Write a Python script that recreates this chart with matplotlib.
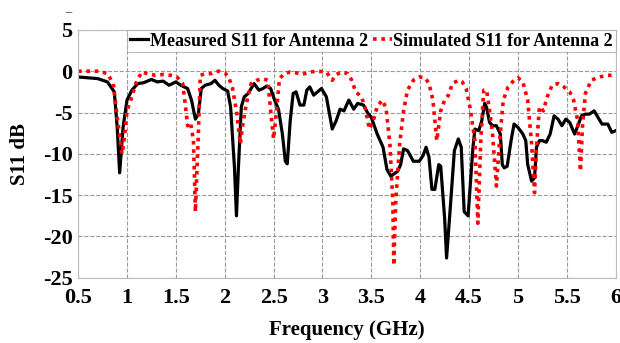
import matplotlib.pyplot as plt

# measured return loss (GHz, dB)
meas_freq = [0.50, 0.60, 0.70, 0.80, 0.87, 0.90, 0.925, 0.96, 1.00, 1.05, 1.11, 1.17,
             1.25, 1.31, 1.37, 1.43, 1.50, 1.55, 1.62, 1.66, 1.70, 1.73, 1.76, 1.80,
             1.86, 1.90, 1.94, 1.98, 2.03, 2.06, 2.10, 2.12, 2.14, 2.17, 2.20, 2.24,
             2.30, 2.35, 2.39, 2.43, 2.47, 2.51, 2.55, 2.59, 2.62, 2.64, 2.67, 2.70,
             2.73, 2.77, 2.81, 2.84, 2.87, 2.91, 2.95, 2.99, 3.04, 3.10, 3.14, 3.18,
             3.22, 3.27, 3.32, 3.36, 3.42, 3.46, 3.50, 3.56, 3.62, 3.66, 3.70, 3.77,
             3.80, 3.83, 3.87, 3.93, 3.99, 4.03, 4.06, 4.09, 4.12, 4.15, 4.19, 4.21,
             4.25, 4.27, 4.30, 4.35, 4.39, 4.42, 4.45, 4.49, 4.54, 4.56, 4.60, 4.63,
             4.66, 4.68, 4.71, 4.74, 4.78, 4.82, 4.84, 4.86, 4.89, 4.93, 4.96, 5.00,
             5.05, 5.08, 5.10, 5.14, 5.17, 5.19, 5.22, 5.25, 5.29, 5.33, 5.37, 5.41,
             5.45, 5.49, 5.53, 5.58, 5.62, 5.65, 5.69, 5.73, 5.78, 5.82, 5.86, 5.92,
             5.96, 6.00]
meas_s11 = [-0.7, -0.8, -0.9, -1.3, -2.5, -6.8, -12.3, -6.8, -3.5, -2.3, -1.5, -1.4,
            -1.0, -1.3, -1.2, -1.7, -1.3, -1.7, -2.1, -3.5, -5.8, -5.2, -2.1, -1.7,
            -1.5, -1.1, -1.7, -2.1, -2.4, -4.3, -11.7, -17.5, -11.7, -4.3, -3.1, -2.7,
            -1.5, -2.3, -2.1, -1.8, -2.1, -3.5, -4.6, -7.6, -10.9, -11.2, -6.0, -2.7,
            -2.5, -4.1, -4.1, -2.3, -1.9, -2.9, -2.5, -2.1, -3.1, -7.0, -6.0, -4.6,
            -4.8, -3.5, -4.6, -3.9, -4.1, -5.0, -5.6, -7.6, -9.2, -11.9, -12.7, -12.1,
            -11.3, -9.4, -9.6, -10.9, -10.9, -10.2, -9.2, -10.4, -14.3, -14.3, -11.3, -11.5,
            -17.8, -22.6, -17.8, -9.6, -8.2, -9.2, -17.0, -17.5, -9.2, -7.0, -7.2, -6.0,
            -3.9, -4.4, -6.2, -6.6, -6.6, -7.6, -11.3, -11.7, -11.5, -8.4, -6.4, -6.8,
            -7.6, -8.4, -11.3, -13.3, -12.9, -9.2, -8.4, -8.4, -8.6, -7.6, -5.4, -5.8,
            -6.6, -5.8, -6.2, -7.6, -6.4, -5.4, -5.2, -5.2, -4.8, -5.6, -6.4, -6.4,
            -7.4, -7.2]

# simulated return loss (GHz, dB)
sim_freq = [0.50, 0.72, 0.80, 0.86, 0.90, 0.95, 0.97, 1.00, 1.05, 1.09, 1.15, 1.21,
            1.29, 1.37, 1.45, 1.51, 1.57, 1.60, 1.62, 1.65, 1.68, 1.70, 1.73, 1.75,
            1.80, 1.86, 1.90, 1.94, 2.00, 2.04, 2.08, 2.12, 2.16, 2.18, 2.22, 2.27,
            2.33, 2.39, 2.44, 2.47, 2.50, 2.53, 2.56, 2.61, 2.67, 2.73, 2.79, 2.87,
            2.95, 3.04, 3.10, 3.14, 3.20, 3.26, 3.30, 3.34, 3.40, 3.44, 3.48, 3.52,
            3.56, 3.61, 3.65, 3.69, 3.72, 3.73, 3.75, 3.79, 3.83, 3.87, 3.93, 3.99,
            4.05, 4.09, 4.13, 4.17, 4.21, 4.25, 4.29, 4.33, 4.39, 4.43, 4.47, 4.51,
            4.56, 4.59, 4.62, 4.65, 4.68, 4.71, 4.74, 4.78, 4.81, 4.85, 4.90, 4.96,
            5.00, 5.05, 5.10, 5.14, 5.17, 5.19, 5.22, 5.26, 5.30, 5.35, 5.41, 5.47,
            5.53, 5.57, 5.61, 5.64, 5.66, 5.69, 5.75, 5.83, 5.92, 6.00]
sim_s11 = [0.0, 0.0, -0.3, -1.5, -5.6, -10.0, -8.4, -4.8, -3.1, -1.5, -0.1, -0.3,
           -0.5, -0.4, -0.5, -0.7, -1.5, -4.4, -6.6, -6.2, -8.4, -17.0, -7.6, -0.5,
           -0.3, -0.3, -0.1, 0.0, -0.2, -0.7, -2.1, -4.8, -8.8, -6.8, -4.0, -1.5,
           -1.1, -0.9, -1.1, -4.8, -8.2, -4.8, -0.9, -0.3, -0.1, -0.2, -0.4, -0.1,
           0.0, -0.1, -1.1, -0.4, -0.1, -0.3, -1.1, -2.5, -3.1, -4.6, -7.0, -6.0,
           -4.3, -3.5, -4.4, -8.8, -15.8, -23.5, -15.8, -8.8, -4.8, -2.3, -1.1, -0.7,
           -0.8, -1.5, -3.5, -8.4, -4.8, -3.5, -2.9, -1.5, -1.1, -1.3, -2.1, -4.4,
           -8.4, -18.4, -8.4, -2.3, -2.3, -4.8, -7.6, -13.9, -8.8, -3.5, -1.9, -1.1,
           -0.8, -1.3, -3.5, -8.8, -14.7, -9.2, -4.3, -4.8, -3.1, -1.7, -1.5, -1.9,
           -2.5, -3.5, -5.9, -12.1, -6.8, -2.7, -1.1, -0.7, -0.5, -0.5]

plt.rcParams["font.family"] = "Liberation Serif"
plt.rcParams["font.weight"] = "bold"

fig = plt.figure(figsize=(6.2, 3.43), dpi=100)
ax = fig.add_axes([0.126, 0.19, 0.867, 0.723])

ax.plot(meas_freq, meas_s11, color="black", linewidth=2.3, label="Measured S11 for Antenna 2")
ax.plot(sim_freq, sim_s11, color="red", linewidth=2.6, linestyle=(0, (1, 1.3)),
        label="Simulated S11 for Antenna 2")

ax.set_xlim(0.5, 6)
ax.set_ylim(-25, 5)
ax.set_xticks([0.5, 1, 1.5, 2, 2.5, 3, 3.5, 4, 4.5, 5, 5.5, 6])
ax.set_xticklabels(["0.5", "1", "1.5", "2", "2.5", "3", "3.5", "4", "4.5", "5", "5.5", "6"])
ax.set_yticks([5, 0, -5, -10, -15, -20, -25])
ax.set_yticklabels(["5", "0", "-5", "-10", "-15", "-20", "-25"])
ax.tick_params(length=0, labelsize=16)
ax.tick_params(axis="x", pad=7)
ax.tick_params(axis="y", pad=4)
for lbl in ax.get_xticklabels() + ax.get_yticklabels():
    lbl.set_fontweight("bold")

ax.grid(True, color="#999999", linestyle="--", linewidth=0.8)
for sp in ax.spines.values():
    sp.set_color("#bbbbbb")
    sp.set_linewidth(0.8)

ax.set_xlabel("Frequency (GHz)", fontsize=15, fontweight="bold", labelpad=9)
ax.set_ylabel("S11 dB", fontsize=15, fontweight="bold", labelpad=9)

leg = ax.legend(loc="upper right", bbox_to_anchor=(1.0, 1.0), ncol=2, fontsize=13,
                frameon=True, fancybox=False, borderaxespad=0, borderpad=0.15,
                handlelength=1.0, handletextpad=0.1, columnspacing=0.3)
leg.get_frame().set_edgecolor("#aaaaaa")
leg.get_frame().set_linewidth(0.8)
for t in leg.get_texts():
    t.set_fontweight("bold")

fig.text(0.11, 0.965, "–", fontsize=9, color="#444444", ha="center", va="center")

fig.savefig("out.png", dpi=100)
